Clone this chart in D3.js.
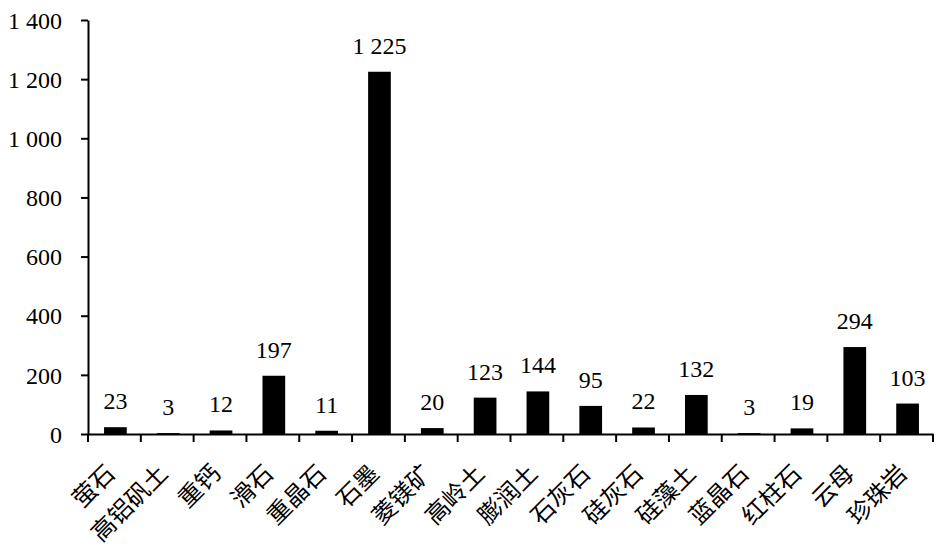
<!DOCTYPE html>
<html><head><meta charset="utf-8">
<script src="https://cdn.jsdelivr.net/npm/d3@7"></script>
<style>
html,body{margin:0;padding:0;background:#fff;}
svg text{font-family:"Liberation Serif","Times New Roman","Noto Sans CJK SC",serif !important;fill:#000;}
</style></head>
<body><svg id="chart" width="939" height="548"></svg>
<script>
const categories = ["萤石","高铝矾土","重钙","滑石","重晶石","石墨","菱镁矿","高岭土","膨润土","石灰石","硅灰石","硅藻土","蓝晶石","红柱石","云母","珍珠岩"];
const values = [23,3,12,197,11,1225,20,123,144,95,22,132,3,19,294,103];
const yTicks = [0,200,400,600,800,1000,1200,1400];

(function(){
const FONT = '"Liberation Serif","Times New Roman","Noto Sans CJK SC",serif';
const svg = d3.select("#chart");
const mLeft = 88, mRight = 933, mTop = 20, mBottom = 434;
const fmt = v => d3.format(",")(v).replace(/,/g, " ");

const y = d3.scaleLinear().domain([0,1400]).range([mBottom, mTop]);
const xb = d3.scaleBand().domain(categories).range([mLeft, mRight]).padding(0);
const barW = xb.bandwidth() * 0.43;

// bars
svg.append("g").selectAll("rect").data(values).join("rect")
  .attr("x", (d,i) => xb(categories[i]) + (xb.bandwidth() - barW)/2 + 1)
  .attr("y", d => y(d))
  .attr("width", barW)
  .attr("height", d => y(0) - y(d))
  .attr("fill", "#000");

// value labels
svg.append("g").selectAll("text").data(values).join("text")
  .attr("x", (d,i) => xb(categories[i]) + xb.bandwidth()/2 + 1)
  .attr("y", d => y(d) - 18)
  .attr("text-anchor", "middle")
  .attr("font-family", FONT)
  .attr("font-size", 24)
  .text(d => fmt(d));

// y axis
const yAxis = d3.axisLeft(y).tickValues(yTicks).tickSize(7).tickSizeOuter(0).tickPadding(19).tickFormat(fmt);
const gy = svg.append("g").attr("transform", `translate(${mLeft},0)`).call(yAxis)
  .attr("font-family", FONT);
gy.selectAll("path,line").attr("stroke","#000").attr("stroke-width",2);
gy.selectAll("text").attr("font-size",24).attr("font-family", FONT).attr("dy","0.34em");

// x axis (line only)
const xAxis = d3.axisBottom(xb).tickSize(0).tickFormat("");
const gx = svg.append("g").attr("transform", `translate(0,${mBottom})`).call(xAxis);
gx.select("path").attr("stroke","#000").attr("stroke-width",2);

// boundary ticks
const bounds = categories.map(c => xb(c)).concat([xb.range()[1]]);
svg.append("g").selectAll("line").data(bounds).join("line")
  .attr("x1", d => d).attr("x2", d => d)
  .attr("y1", mBottom).attr("y2", mBottom + 8)
  .attr("stroke","#000").attr("stroke-width",2);

// category labels
svg.append("g").selectAll("text").data(categories).join("text")
  .attr("transform", c => `translate(${xb(c) + xb.bandwidth()/2 + 2},${mBottom + 41}) rotate(-45)`)
  .attr("text-anchor","end")
  .attr("font-family", FONT)
  .attr("font-size",24)
  .text(c => c);
})();
</script></body></html>
